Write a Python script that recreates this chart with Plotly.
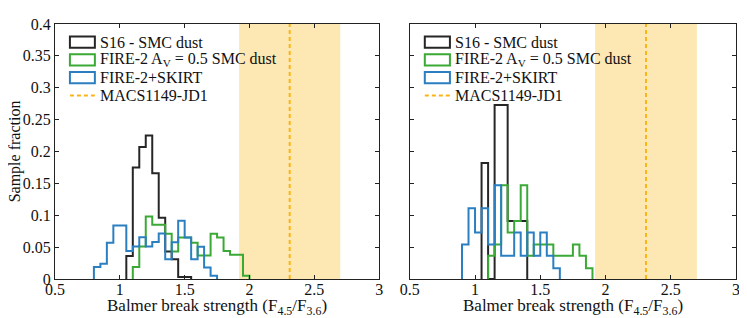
import plotly.graph_objects as go

BIN_W = 0.05

# ---- Left panel (bin left edges, sample fractions) ----
left_black_x = [1.05, 1.10, 1.15, 1.20, 1.25, 1.30, 1.35, 1.40, 1.45, 1.50]
left_black_y = [0.036, 0.175, 0.207, 0.225, 0.166, 0.096, 0.043, 0.031, 0.003, 0.003]

left_green_x = [1.10, 1.15, 1.20, 1.25, 1.30, 1.35, 1.40, 1.45, 1.50, 1.55,
                1.60, 1.65, 1.70, 1.75, 1.80, 1.85, 1.90, 1.95]
left_green_y = [0.019, 0.051, 0.098, 0.085, 0.085, 0.071, 0.043, 0.065, 0.065, 0.057,
                0.037, 0.037, 0.071, 0.065, 0.044, 0.038, 0.038, 0.005]

left_blue_x = [0.80, 0.85, 0.90, 0.95, 1.00, 1.05, 1.10, 1.15, 1.20, 1.25,
               1.30, 1.35, 1.40, 1.45, 1.50, 1.55, 1.60, 1.65, 1.70]
left_blue_y = [0.019, 0.024, 0.057, 0.084, 0.084, 0.044, 0.051, 0.0655, 0.051, 0.058,
               0.0715, 0.031, 0.0575, 0.0915, 0.065, 0.031, 0.0507, 0.018, 0.005]

# ---- Right panel ----
right_black_x = [1.05, 1.10, 1.15, 1.20, 1.25, 1.30, 1.35]
right_black_y = [0.182, 0.0, 0.273, 0.273, 0.091, 0.091, 0.091]

right_green_x = [1.10, 1.15, 1.20, 1.25, 1.30, 1.35, 1.40, 1.45, 1.50, 1.55,
                 1.60, 1.65, 1.70, 1.75, 1.80, 1.85]
right_green_y = [0.0366, 0.054, 0.147, 0.073, 0.091, 0.147, 0.0366, 0.054, 0.054, 0.054,
                 0.0366, 0.0366, 0.0366, 0.054, 0.0366, 0.0167]

right_blue_x = [0.90, 0.95, 1.00, 1.05, 1.10, 1.15, 1.20, 1.25, 1.30, 1.35,
                1.40, 1.45, 1.50, 1.55, 1.60]
right_blue_y = [0.054, 0.111, 0.073, 0.111, 0.054, 0.147, 0.0366, 0.0366, 0.073, 0.0366,
                0.073, 0.0366, 0.073, 0.0366, 0.0167]

# observed object
jd1_value = 2.31
jd1_low, jd1_high = 1.92, 2.70

series_names = ["S16 - SMC dust", "FIRE-2 A<sub>V</sub> = 0.5 SMC dust", "FIRE-2+SKIRT", "MACS1149-JD1"]
x_ticks = [0.5, 1, 1.5, 2, 2.5, 3]
x_tick_text = ["0.5", "1", "1.5", "2", "2.5", "3"]
y_ticks = [0, 0.05, 0.1, 0.15, 0.2, 0.25, 0.3, 0.35, 0.4]
y_tick_text = ["0", "0.05", "0.1", "0.15", "0.2", "0.25", "0.3", "0.35", "0.4"]

C_BLACK = "#262626"
C_GREEN = "#3aa935"
C_BLUE = "#2b7fc1"
C_ORANGE = "#fbb416"
C_BAND = "#fde7b3"
FONT = "Liberation Serif"


def step_xy(lefts, vals):
    xs = [lefts[0]] + list(lefts) + [lefts[-1] + BIN_W]
    ys = [0] + list(vals) + [0]
    return xs, ys


fig = go.Figure()

panels = [
    ("x", "y", [(left_black_x, left_black_y, C_BLACK),
                (left_green_x, left_green_y, C_GREEN),
                (left_blue_x, left_blue_y, C_BLUE)]),
    ("x2", "y2", [(right_black_x, right_black_y, C_BLACK),
                  (right_green_x, right_green_y, C_GREEN),
                  (right_blue_x, right_blue_y, C_BLUE)]),
]

shapes = []
annotations = []
for xa, ya, series in panels:
    for lx, ly, col in series:
        xs, ys = step_xy(lx, ly)
        fig.add_trace(go.Scatter(x=xs, y=ys, mode="lines", line=dict(color=col, width=2, shape="hv"),
                                 xaxis=xa, yaxis=ya, showlegend=False, hoverinfo="skip"))
    # band and observed value
    shapes.append(dict(type="rect", xref=xa, yref=f"{ya} domain", x0=jd1_low, x1=jd1_high, y0=0, y1=1,
                       fillcolor=C_BAND, line=dict(width=0), layer="below"))
    shapes.append(dict(type="line", xref=xa, yref=f"{ya} domain", x0=jd1_value, x1=jd1_value, y0=0, y1=1,
                       line=dict(color=C_ORANGE, width=2, dash="4px,3px"), layer="above"))
    # manual legend
    xd = f"{xa} domain"
    yd = f"{ya} domain"
    rows = [0.929, 0.859, 0.790, 0.720]
    cols = [C_BLACK, C_GREEN, C_BLUE]
    for i, (r, c) in enumerate(zip(rows[:3], cols)):
        shapes.append(dict(type="rect", xref=xd, yref=yd, x0=0.046, x1=0.123, y0=r - 0.022, y1=r + 0.022,
                           line=dict(color=c, width=2), fillcolor="rgba(0,0,0,0)"))
    shapes.append(dict(type="line", xref=xd, yref=yd, x0=0.046, x1=0.123, y0=rows[3], y1=rows[3],
                       line=dict(color=C_ORANGE, width=2, dash="4px,3px")))
    for r, name in zip(rows, series_names):
        annotations.append(dict(xref=xd, yref=yd, x=0.133, y=r, text=name, showarrow=False,
                                xanchor="left", yanchor="middle",
                                font=dict(family=FONT, size=16, color="#111")))
    # x title
    annotations.append(dict(xref=xd, yref="paper", x=0.5, y=-0.11,
                            text="Balmer break strength (F<sub>4.5</sub>/F<sub>3.6</sub>)",
                            showarrow=False, xanchor="center", yanchor="middle",
                            font=dict(family=FONT, size=17, color="#111")))

annotations.append(dict(xref="paper", yref="paper", x=-0.059, y=0.5, text="Sample fraction",
                        textangle=-90, showarrow=False, xanchor="center", yanchor="middle",
                        font=dict(family=FONT, size=16, color="#111")))

axis_common = dict(range=[0.5, 3], tickvals=x_ticks, ticktext=x_tick_text, ticks="inside", ticklen=4,
                   tickcolor="#222", showline=True, linecolor="#222", linewidth=1, mirror="ticks",
                   showgrid=False, zeroline=False, ticklabelstandoff=-4,
                   tickfont=dict(family=FONT, size=16, color="#111"))
yaxis_common = dict(range=[0, 0.4], tickvals=y_ticks, ticktext=y_tick_text, ticks="inside", ticklen=4,
                    tickcolor="#222", showline=True, linecolor="#222", linewidth=1, mirror="ticks",
                    showgrid=False, zeroline=False, tickfont=dict(family=FONT, size=16, color="#111"))

fig.update_layout(
    width=739, height=310,
    margin=dict(l=47, r=7, t=16, b=39),
    paper_bgcolor="white", plot_bgcolor="white",
    xaxis=dict(domain=[0, 0.476], anchor="y", **axis_common),
    yaxis=dict(domain=[0, 1], anchor="x", **yaxis_common),
    xaxis2=dict(domain=[0.521, 1.0], anchor="y2", **axis_common),
    yaxis2=dict(domain=[0, 1], anchor="x2", showticklabels=False,
                **{k: v for k, v in yaxis_common.items()}),
    shapes=shapes,
    annotations=annotations,
    showlegend=False,
)

fig.write_html("out.html")
